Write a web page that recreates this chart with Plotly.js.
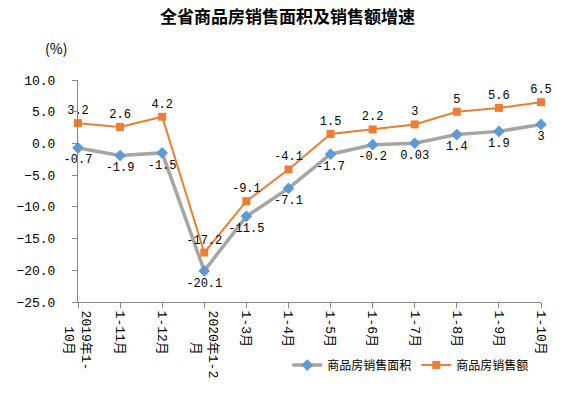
<!DOCTYPE html>
<html>
<head>
<meta charset="utf-8">
<script src="https://cdn.plot.ly/plotly-3.0.1.min.js"></script>
<style>html,body{margin:0;padding:0;background:#fff;}#chart{width:575px;height:393px;}</style>
</head>
<body>
<div id="chart"></div>
<script>
const categories = ["2019年1-<br>\u00A0\u00A010月", "1-11月", "1-12月", "2020年1-2<br>\u00A0\u00A0\u00A0\u00A0月", "1-3月", "1-4月", "1-5月", "1-6月", "1-7月", "1-8月", "1-9月", "1-10月"];
const areaGrowth = [-0.7, -1.9, -1.5, -20.1, -11.5, -7.1, -1.7, -0.2, 0.03, 1.4, 1.9, 3];
const salesGrowth = [3.2, 2.6, 4.2, -17.2, -9.1, -4.1, 1.5, 2.2, 3, 5, 5.6, 6.5];
const areaLabels = ["-0.7", "-1.9", "-1.5", "-20.1", "-11.5", "-7.1", "-1.7", "-0.2", "0.03", "1.4", "1.9", "3"];
const salesLabels = ["3.2", "2.6", "4.2", "-17.2", "-9.1", "-4.1", "1.5", "2.2", "3", "5", "5.6", "6.5"];

const monoFont = "Liberation Mono, Noto Sans CJK SC, monospace";

const traces = [
  {
    type: "scatter", mode: "lines+markers+text",
    name: "商品房销售面积",
    x: categories, y: areaGrowth,
    text: areaLabels, textposition: "bottom center",
    textfont: {family: monoFont, size: 12, color: "#000"},
    line: {color: "#A5A5A5", width: 3.5},
    marker: {symbol: "diamond", size: 9, color: "#5B9BD5"},
    cliponaxis: false
  },
  {
    type: "scatter", mode: "lines+markers+text",
    name: "商品房销售额",
    x: categories, y: salesGrowth,
    text: salesLabels, textposition: "top center",
    textfont: {family: monoFont, size: 12, color: "#000"},
    line: {color: "#ED7D31", width: 2},
    marker: {symbol: "square", size: 8, color: "#ED7D31"},
    cliponaxis: false
  }
];

const layout = {
  width: 575, height: 393,
  paper_bgcolor: "#fff", plot_bgcolor: "#fff",
  margin: {l: 78, r: 34, t: 80, b: 91},
  title: {
    text: "<b>全省商品房销售面积及销售额增速</b>",
    font: {family: "Noto Sans CJK SC", size: 17, color: "#000"},
    x: 0.5, xanchor: "center", y: 1 - 17/393, yanchor: "middle"
  },
  xaxis: {
    type: "category", categoryorder: "array", categoryarray: categories,
    range: [0, 11],
    showgrid: false, zeroline: false,
    showline: true, linecolor: "#888", linewidth: 1,
    ticks: "outside", ticklen: 5, tickcolor: "#888",
    tickangle: 90,
    tickfont: {family: monoFont, size: 13, color: "#000"}
  },
  yaxis: {
    range: [-25, 10], dtick: 5, tick0: 0, tickformat: ".1f",
    showgrid: false, zeroline: false,
    showline: true, linecolor: "#888", linewidth: 1,
    ticks: "outside", ticklen: 5, tickcolor: "#888",
    ticklabelstandoff: 14,
    tickfont: {family: monoFont, size: 13, color: "#000"}
  },
  showlegend: true,
  legend: {
    orientation: "h", x: 0.452, xanchor: "left", y: -0.284, yanchor: "middle",
    font: {family: "Noto Sans CJK SC", size: 12, color: "#000"},
    itemwidth: 30, tracegroupgap: 0, bgcolor: "rgba(0,0,0,0)"
  },
  annotations: [
    {text: "(%)", xref: "paper", yref: "paper", x: -0.0475, y: (302-48)/222,
     xanchor: "center", yanchor: "middle", showarrow: false,
     font: {family: "Noto Sans CJK SC", size: 14, color: "#000"}}
  ]
};

Plotly.newPlot("chart", traces, layout, {displayModeBar: false, staticPlot: true});
</script>
</body>
</html>
